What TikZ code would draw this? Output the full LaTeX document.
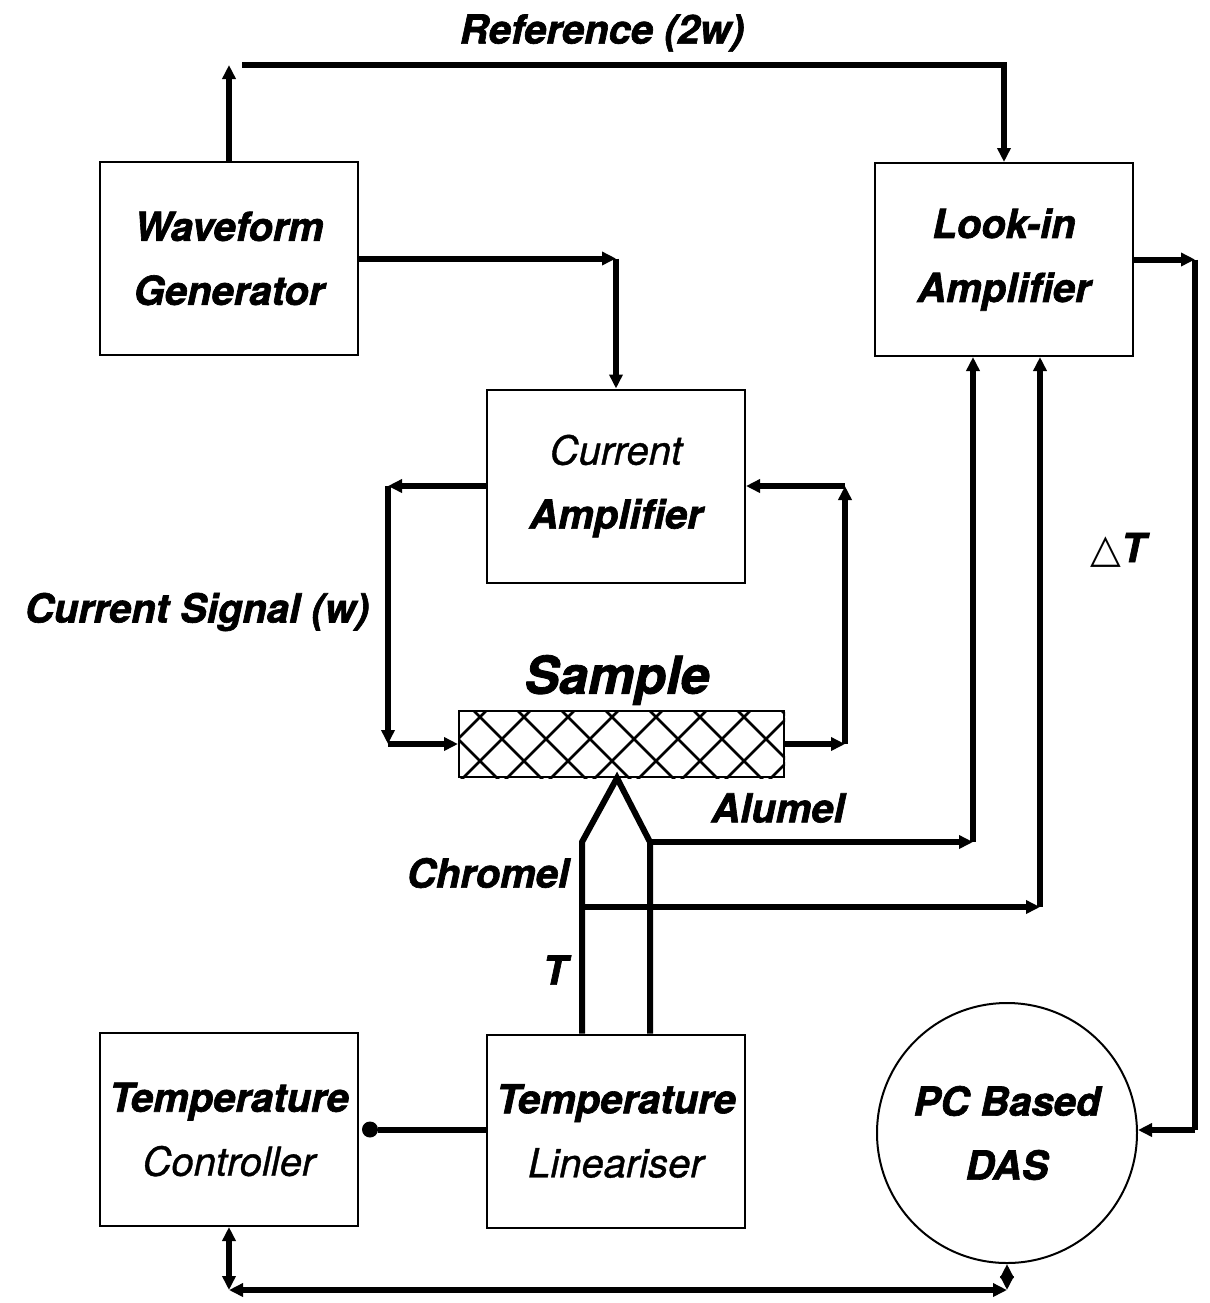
\documentclass[tikz,border=0pt]{standalone}
\usepackage{fontspec}
\setmainfont[BoldItalicFeatures={FakeBold=1.6},ItalicFeatures={FakeBold=0.9}]{TeX Gyre Heros}
\newfontfamily\symfont{DejaVu Sans}
\usetikzlibrary{arrows.meta,calc}
\begin{document}
\begin{tikzpicture}[x=0.5pt,y=-0.5pt,
  box/.style={draw,line width=1pt,minimum width=129pt,minimum height=96.5pt,align=center,inner sep=0pt,font=\fontsize{20}{32}\selectfont},
  conn/.style={line width=3pt,-{Triangle[length=7pt,width=6.5pt]}},
  both/.style={line width=3pt,{Triangle[length=7pt,width=6.5pt]}-{Triangle[length=7pt,width=6.5pt]}},
  wire/.style={line width=3pt,line join=miter},
  hatch/.style={line width=1.4pt},
  lbl/.style={font=\fontsize{20}{24}\selectfont\bfseries\itshape,inner sep=0pt}]
\useasboundingbox (0,0) rectangle (1210,1303);
% boxes
\node[box] (wg) at (229,258.5) {{\bfseries\itshape Waveform}\\{\bfseries\itshape Generator}};
\node[box] (lia) at (1004,259.5) {{\bfseries\itshape Look-in}\\{\bfseries\itshape Amplifier}};
\node[box] (ca) at (616,486) {{\itshape Current}\\{\bfseries\itshape Amplifier}};
\node[box] (tc) at (229,1129.5) {{\bfseries\itshape Temperature}\\{\itshape Controller}};
\node[box] (tl) at (616,1131) {{\bfseries\itshape Temperature}\\{\itshape Lineariser}};
\node[draw,circle,line width=1pt,minimum size=130pt,align=center,inner sep=0pt,font=\fontsize{20}{32}\selectfont] (das) at (1007,1133) {{\bfseries\itshape PC Based}\\{\bfseries\itshape DAS}};
% sample
\node[draw,line width=1pt,minimum width=162.5pt,minimum height=33pt,inner sep=0pt] (sample) at (621.5,744) {};
\begin{scope}
\clip (sample.south west) rectangle (sample.north east);
\foreach \i in {0,...,11} {
  \draw[hatch] (375+44*\i,700) -- ++(90,90);
  \draw[hatch] (407+44*\i+90,700) -- ++(-90,90);
}
\end{scope}
\node[lbl,font=\fontsize{26}{30}\selectfont\bfseries\itshape] (samplelbl) at (617,680) {Sample};
% labels
\node[lbl] (reflbl) at (602,33) {Reference (2w)};
\node[lbl] (cslbl) at (197,612) {Current Signal (w)};
\node[lbl] (allbl) at (778,808) {Alumel};
\node[lbl] (chlbl) at (488,873) {Chromel};
\node[lbl] (tlbl) at (555,970) {T};
\node[lbl] (dtlbl) at (1118,550) {{\symfont\fontsize{20}{24}\selectfont △}T};
% coordinates
\coordinate (refL) at (229,65);
\coordinate (refS) at (242,65);
\coordinate (refR) at (1004,65);
\coordinate (c1) at (616,258.5);
\coordinate (cl1) at (388,486);
\coordinate (cl2) at (388,744);
\coordinate (cr1) at (845,744);
\coordinate (cr2) at (845,486);
\coordinate (apex) at (617,778);
\coordinate (lleg) at (582,842);
\coordinate (rleg) at (650,842);
\coordinate (al1) at (973,842);
\coordinate (ch0) at (582,907);
\coordinate (ch1) at (1040,907);
\coordinate (lo1) at (1195,259.5);
\coordinate (lo2) at (1195,1130);
\coordinate (b1) at (229,1290);
\coordinate (b2) at (1007,1290);
% connectors
\draw[conn] (wg.north) -- (refL);
\draw[conn] (refS) -- (refR) -- (lia.north);
\draw[conn] (wg.east) -- (c1);
\draw[conn] (c1) -- (ca.north);
\draw[conn] (ca.west) -- (cl1);
\draw[conn] (cl1) -- (cl2);
\draw[conn] (cl2) -- (sample.west);
\draw[conn] (sample.east) -- (cr1);
\draw[conn] (cr1) -- (cr2);
\draw[conn] (cr2) -- (ca.east);
% thermocouple
\draw[wire] (lleg |- tl.north) -- (lleg) -- (apex) -- (rleg) -- (rleg |- tl.north);
\draw[conn] (rleg) -- (al1);
\draw[conn] (al1) -- (al1 |- lia.south);
\draw[conn] (ch0) -- (ch1);
\draw[conn] (ch1) -- (ch1 |- lia.south);
% lock-in to DAS
\draw[conn] (lia.east) -- (lo1);
\draw[wire] (lo1) -- (lo2);
\draw[conn] (lo2) -- (lo2 -| das.east);
% controller-lineariser
\node[circle,fill,minimum size=8pt,inner sep=0pt] (dot) at ($(tc.east)+(11,0)$) {};
\draw[wire] (dot) -- (dot -| tl.west);
% bottom
\draw[both] (tc.south) -- (b1);
\draw[both] (b1) -- (b2);
\draw[both] (b2) -- (das.south);
\end{tikzpicture}
\end{document}
